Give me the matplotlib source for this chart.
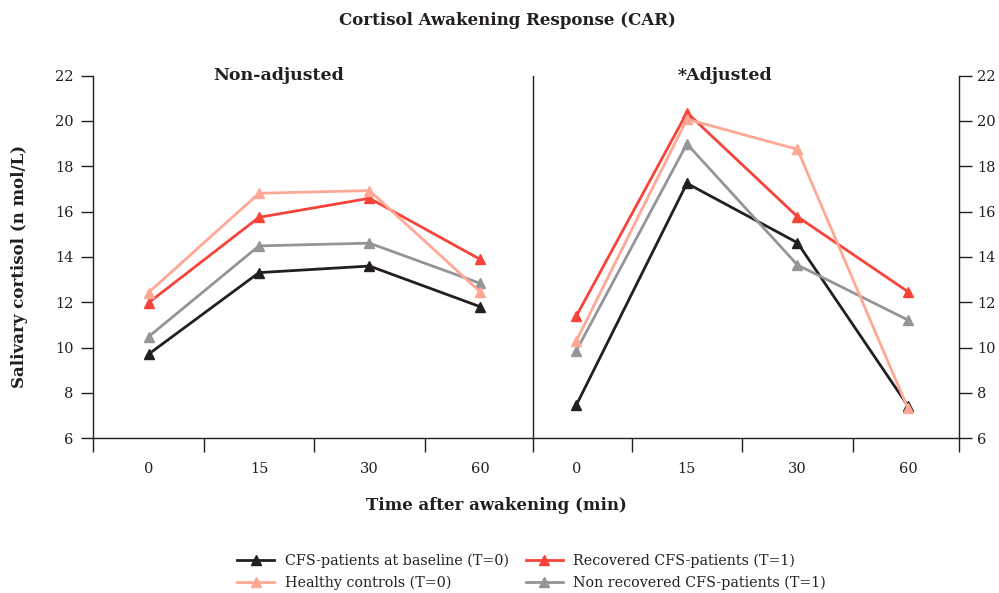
import numpy as np
import matplotlib
matplotlib.use("Agg")
import matplotlib.pyplot as plt

plt.rcParams['font.family'] = ['DejaVu Serif']

# sampling times after awakening (minutes)
times = ["0", "15", "30", "60"]

# salivary cortisol (n mol/L), non-adjusted
raw_cfs_baseline = [9.71, 13.31, 13.60, 11.81]
raw_healthy = [12.43, 16.81, 16.93, 12.47]
raw_recovered = [11.98, 15.75, 16.59, 13.90]
raw_non_recovered = [10.48, 14.49, 14.61, 12.84]

# salivary cortisol (n mol/L), adjusted
adj_cfs_baseline = [7.47, 17.25, 14.63, 7.43]
adj_healthy = [10.31, 20.08, 18.75, 7.32]
adj_recovered = [11.40, 20.37, 15.78, 12.47]
adj_non_recovered = [9.87, 18.99, 13.65, 11.22]

labels = ["CFS-patients at baseline (T=0)", "Healthy controls (T=0)",
          "Recovered CFS-patients (T=1)", "Non recovered CFS-patients (T=1)"]
colors = ["#231f20", "#ffa895", "#f8433a", "#949599"]
ink = "#231f20"

fig = plt.figure(figsize=(9.99, 5.93), dpi=100)
ax1 = fig.add_axes([0.0934, 0.2609, 0.4401, 0.6115])
ax2 = fig.add_axes([0.5335, 0.2609, 0.4264, 0.6115])

xpos = np.arange(len(times)) + 0.5
panels = [
    (ax1, [raw_cfs_baseline, raw_healthy, raw_recovered, raw_non_recovered], (0, 3.98)),
    (ax2, [adj_cfs_baseline, adj_healthy, adj_recovered, adj_non_recovered], (0.107, 3.962)),
]

handles = []
for ax, series, xlim in panels:
    # draw order: black, grey, red, salmon on top
    for idx in [0, 3, 2, 1]:
        h, = ax.plot(xpos, series[idx], color=colors[idx], lw=2.0, marker='^',
                     ms=7.8, mew=1, mec=colors[idx], label=labels[idx],
                     solid_joinstyle='miter')
        if ax is ax1:
            handles.append((idx, h))
    ax.set_xlim(*xlim)
    ax.set_ylim(6, 22)
    ax.set_yticks(np.arange(6, 23, 2))
    ax.spines['top'].set_visible(False)
    for sp in ax.spines.values():
        sp.set_color(ink)
        sp.set_linewidth(1.0)
    # boundary marks between categories, labels centred on the points
    lo, hi = xlim
    bounds = [b for b in [0, 1, 2, 3] if b >= lo] + [hi]
    ax.set_xticks(bounds)
    ax.set_xticklabels([])
    ax.set_xticks(xpos, minor=True)
    ax.set_xticklabels(times, minor=True)
    ax.tick_params(axis='x', which='major', direction='out', length=10,
                   width=1.0, color=ink)
    ax.tick_params(axis='x', which='minor', length=0, pad=17, labelsize=10.5,
                   labelcolor=ink)
    ax.tick_params(axis='y', direction='out', length=9, width=1.0, color=ink,
                   labelsize=10.5, labelcolor=ink)

ax1.spines['right'].set_visible(False)
ax1.tick_params(axis='y', pad=5)
ax2.yaxis.tick_right()
ax2.tick_params(axis='y', pad=4)

fig.text(0.508, 0.966, "Cortisol Awakening Response (CAR)", ha='center',
         va='center', fontsize=12, fontweight='bold', color=ink)
fig.text(0.279, 0.872, "Non-adjusted", ha='center', va='center',
         fontsize=12.5, fontweight='bold', color=ink)
fig.text(0.726, 0.872, "*Adjusted", ha='center', va='center',
         fontsize=12.5, fontweight='bold', color=ink)
fig.text(0.020, 0.551, "Salivary cortisol (n mol/L)", rotation=90,
         ha='center', va='center', fontsize=12, fontweight='bold', color=ink)
fig.text(0.497, 0.148, "Time after awakening (min)", ha='center',
         va='center', fontsize=12, fontweight='bold', color=ink)

handles = [h for _, h in sorted(handles, key=lambda t: t[0])]
fig.legend(handles=handles, labels=labels, loc='center',
           bbox_to_anchor=(0.532, 0.036), ncol=2, frameon=False,
           fontsize=10.3, handlelength=2.6, handletextpad=0.7,
           columnspacing=1.2, labelspacing=0.55, numpoints=1,
           labelcolor=ink)

fig.savefig("out.png", dpi=100)
